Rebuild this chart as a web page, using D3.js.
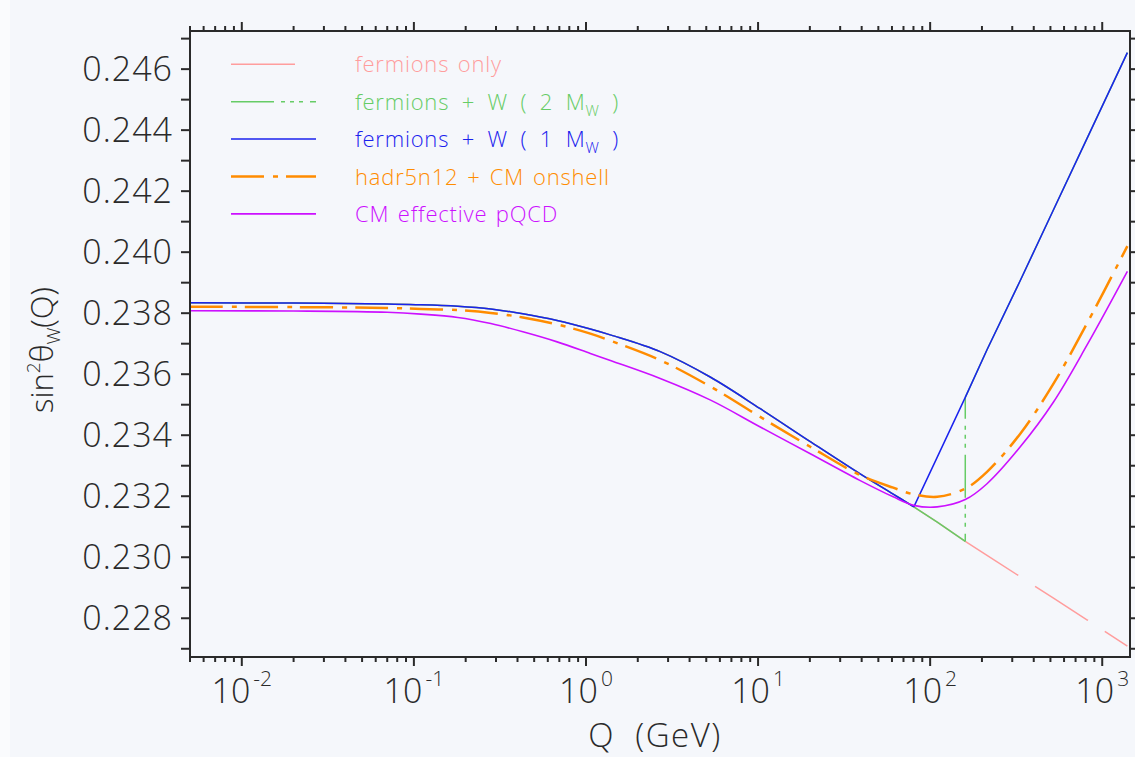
<!DOCTYPE html>
<html>
<head>
<meta charset="utf-8">
<script src="https://cdn.jsdelivr.net/npm/d3@7"></script>
<style>
  html, body { margin: 0; padding: 0; background: #f5f7fb; }
  svg { display: block; }
  text { font-family: "Open Sans", Roboto, "DejaVu Sans", sans-serif; font-weight: 300; fill: #2a2a2a; }
</style>
</head>
<body>
<svg id="chart" width="1135" height="757"></svg>
<script>
// Scale Q (GeV) up to the W mass
const qLow = [0.005, 0.02, 0.07, 0.11, 0.18, 0.28, 0.43, 0.68, 1.06, 1.4, 2.7, 5.3, 10.3, 20, 39, 61, 80.4];
// Fermion-loop running of sin^2(theta_W), common to the first three curves below M_W
const fermionLow = [0.23834, 0.23833, 0.23830, 0.23828, 0.23823, 0.23814, 0.23798, 0.23776, 0.23748, 0.23728,
                    0.23674, 0.23590, 0.23487, 0.23380, 0.23274, 0.23207, 0.23165];
// Scale Q (GeV) above the W mass
const qHigh = [80.4, 110, 160, 214, 334, 521, 815, 1400];
// Fermions only, continued above M_W
const fermionHigh = [0.23165, 0.23115, 0.23052, 0.23006, 0.22936, 0.22866, 0.22795, 0.22709];
// Fermions + W loop switched on at 1 M_W
const wHigh = [0.23165, 0.23328, 0.23524, 0.23680, 0.23907, 0.24139, 0.24372, 0.24654];
// Full grid for the two hadronic curves
const qAll = qLow.concat(qHigh.slice(1));
// hadr5n12 + CM onshell
const hadrOnshell = [0.23821, 0.23820, 0.23817, 0.23814, 0.23810, 0.23801, 0.23786, 0.23763, 0.23733, 0.23709,
                     0.23646, 0.23559, 0.23460, 0.23363, 0.23270, 0.23228, 0.23206,
                     0.23198, 0.23225, 0.23280, 0.23405, 0.23569, 0.23766, 0.24020];
// CM effective pQCD
const effectivePQCD = [0.23808, 0.23807, 0.23803, 0.23797, 0.23786, 0.23766, 0.23739, 0.23706, 0.23668, 0.23644,
                       0.23586, 0.23515, 0.23427, 0.23340, 0.23252, 0.23198, 0.23170,
                       0.23165, 0.23189, 0.23241, 0.23362, 0.23509, 0.23695, 0.23937];
// Threshold where the W contribution enters for the "2 M_W" curve
const twoMW = 160;

const yTickValues = [0.228, 0.230, 0.232, 0.234, 0.236, 0.238, 0.240, 0.242, 0.244, 0.246];
const xTickExponents = [-2, -1, 0, 1, 2, 3];

const legendLabels = [
  ["fermions only"],
  ["fermions + W ( 2 M", "W", " )"],
  ["fermions + W ( 1 M", "W", " )"],
  ["hadr5n12 + CM onshell"],
  ["CM effective pQCD"]
];
const colors = {
  pink: "#ff9d9d",
  green: "#66cc66",
  blue: "#1a22ee",
  orange: "#ff8c00",
  magenta: "#cc11ff"
};

// ---- layout ----
const W = 1135, H = 757;
const plot = { left: 190, right: 1130, top: 31, bottom: 657 };

const svg = d3.select("#chart");
svg.append("rect").attr("x", 0).attr("y", 0).attr("width", W).attr("height", H).attr("fill", "#f5f7fb");
svg.append("rect").attr("x", 0).attr("y", 0).attr("width", 10).attr("height", H).attr("fill", "#fafbfd");

const x = d3.scaleLog().domain([0.005, 1450]).range([plot.left, plot.right]);
const y = d3.scaleLinear().domain([0.22673, 0.24725]).range([plot.bottom, plot.top]);

const clip = svg.append("defs").append("clipPath").attr("id", "plotclip");
clip.append("rect").attr("x", plot.left).attr("y", plot.top)
  .attr("width", plot.right - plot.left).attr("height", plot.bottom - plot.top);

const zip = (qs, vs) => qs.map((q, i) => [q, vs[i]]);
const smooth = d3.line().x(d => x(d[0])).y(d => y(d[1])).curve(d3.curveCatmullRom.alpha(0.5));
const straight = d3.line().x(d => x(d[0])).y(d => y(d[1]));

const g = svg.append("g").attr("clip-path", "url(#plotclip)");

function drawPath(d, color, width, dash, offset) {
  const p = g.append("path").attr("d", d).attr("fill", "none")
    .attr("stroke", color).attr("stroke-width", width)
    .attr("stroke-linejoin", "round");
  if (dash) p.attr("stroke-dasharray", dash);
  if (offset !== undefined) p.attr("stroke-dashoffset", offset);
  return p;
}

// fermions only
const iTwoMW = qHigh.indexOf(twoMW);
drawPath(smooth(zip(qLow, fermionLow)), colors.pink, 1.5);
drawPath(straight(zip(qHigh.slice(0, iTwoMW + 1), fermionHigh.slice(0, iTwoMW + 1))), colors.pink, 1.5);
drawPath(straight(zip(qHigh.slice(iTwoMW), fermionHigh.slice(iTwoMW))), colors.pink, 1.5, "63 20");

// fermions + W (2 M_W): fermion running up to 2 M_W, then a jump onto the W curve
drawPath(smooth(zip(qLow, fermionLow)), colors.green, 1.5);
drawPath(straight(zip(qHigh.slice(0, iTwoMW + 1), fermionHigh.slice(0, iTwoMW + 1))), colors.green, 1.5);
const jump = [[twoMW, fermionHigh[iTwoMW]], [twoMW, wHigh[iTwoMW]]];
const greenDash = "43 7 4 5 4 5 4 7";
drawPath(straight(jump), colors.green, 1.5, greenDash, 35.3);
drawPath(straight(zip(qHigh.slice(iTwoMW), wHigh.slice(iTwoMW))), colors.green, 1.5);

// fermions + W (1 M_W)
drawPath(smooth(zip(qLow, fermionLow)), colors.blue, 1.5);
drawPath(straight(zip(qHigh, wHigh)), colors.blue, 1.5);

// hadr5n12 + CM onshell
const orangeDash = "33 9 5 8";
drawPath(smooth(zip(qAll, hadrOnshell)), colors.orange, 2.5, orangeDash);

// CM effective pQCD
drawPath(smooth(zip(qAll, effectivePQCD)), colors.magenta, 1.6);

// ---- frame and ticks ----
const axisColor = "#2a2a2a";
const frame = svg.append("g");
frame.append("rect").attr("x", plot.left).attr("y", plot.top)
  .attr("width", plot.right - plot.left).attr("height", plot.bottom - plot.top)
  .attr("fill", "none").attr("stroke", axisColor).attr("stroke-width", 2);

// x ticks: every integer multiple inside each decade
const xMinor = [];
for (let k = -3; k <= 3; k++) {
  for (let m = 1; m <= 9; m++) {
    const v = m * Math.pow(10, k);
    if (v >= 0.005 * 0.999 && v <= 1450) xMinor.push({ v, major: m === 1 });
  }
}
xMinor.forEach(t => {
  const len = t.major ? 9 : 5;
  const px = x(t.v);
  frame.append("line").attr("x1", px).attr("x2", px).attr("y1", plot.bottom).attr("y2", plot.bottom + len)
    .attr("stroke", axisColor).attr("stroke-width", 2);
  frame.append("line").attr("x1", px).attr("x2", px).attr("y1", plot.top).attr("y2", plot.top - len)
    .attr("stroke", axisColor).attr("stroke-width", 2);
});

// y ticks every 0.001
const yAll = d3.range(0.227, 0.24701, 0.001);
yAll.forEach(v => {
  const py = y(v);
  frame.append("line").attr("x1", plot.left - 9).attr("x2", plot.left).attr("y1", py).attr("y2", py)
    .attr("stroke", axisColor).attr("stroke-width", 2);
  frame.append("line").attr("x1", plot.right).attr("x2", plot.right + 9).attr("y1", py).attr("y2", py)
    .attr("stroke", axisColor).attr("stroke-width", 2);
});

// y tick labels
const fmt = d3.format(".3f");
svg.append("g").selectAll("text").data(yTickValues).join("text")
  .attr("x", 173).attr("y", d => y(d) + 12)
  .attr("text-anchor", "end")
  .attr("font-size", 34)
  .attr("letter-spacing", 1)
  .text(d => fmt(d));

// x tick labels (powers of ten)
const xl = svg.append("g").selectAll("text").data(xTickExponents).join("text")
  .attr("x", d => x(Math.pow(10, d)))
  .attr("y", 703)
  .attr("text-anchor", "middle")
  .attr("font-size", 34);
xl.append("tspan").text("10");
xl.append("tspan").attr("dy", -17).attr("font-size", 21).attr("dx", 3).text(d => String(d));

// axis titles
svg.append("text")
  .attr("x", 655).attr("y", 747)
  .attr("text-anchor", "middle")
  .attr("font-size", 33)
  .attr("letter-spacing", 1.5)
  .style("white-space", "pre")
  .text("Q  (GeV)");

const yt = svg.append("text")
  .attr("transform", "translate(53,350) rotate(-90)")
  .attr("text-anchor", "middle")
  .attr("font-size", 31);
yt.append("tspan").text("sin");
yt.append("tspan").attr("dy", -13).attr("font-size", 19).text("2");
yt.append("tspan").attr("dy", 13).text("θ");
yt.append("tspan").attr("dy", 7).attr("font-size", 19).text("W");
yt.append("tspan").attr("dy", -7).text("(Q)");

// ---- legend ----
const legendStyles = [
  { color: colors.pink, width: 1.5, dash: null, len: 64, ws: 2 },
  { color: colors.green, width: 1.5, dash: greenDash, len: 85, ws: 6 },
  { color: colors.blue, width: 1.5, dash: null, len: 85, ws: 6 },
  { color: colors.orange, width: 2.5, dash: orangeDash, len: 85, ws: 2.5 },
  { color: colors.magenta, width: 1.6, dash: null, len: 85, ws: 2 }
];
const leg = svg.append("g");
legendLabels.forEach((parts, i) => {
  const cy = 64.3 + i * 37.4;
  const s = legendStyles[i];
  const ln = leg.append("line").attr("x1", 231).attr("x2", 231 + s.len).attr("y1", cy).attr("y2", cy)
    .attr("stroke", s.color).attr("stroke-width", s.width);
  if (s.dash) ln.attr("stroke-dasharray", s.dash);
  const t = leg.append("text").attr("x", 355).attr("y", cy + 8)
    .attr("font-size", 22).attr("letter-spacing", 0.8).attr("word-spacing", s.ws)
    .style("white-space", "pre").style("fill", s.color);
  t.append("tspan").text(parts[0]);
  if (parts.length > 1) {
    t.append("tspan").attr("dy", 6).attr("font-size", 15).text(parts[1]);
    t.append("tspan").attr("dy", -6).text(parts[2]);
  }
});
</script>
</body>
</html>
